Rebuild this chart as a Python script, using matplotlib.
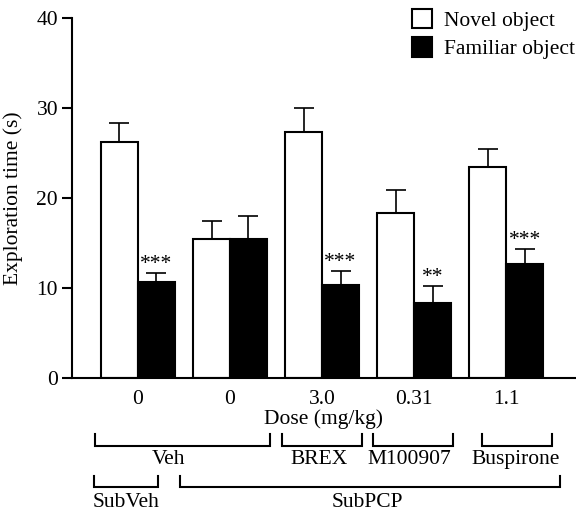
import matplotlib
matplotlib.use("Agg")
import matplotlib.pyplot as plt
import numpy as np

plt.rcParams['font.family'] = ['Liberation Serif', 'DejaVu Serif']

dose_labels = ["0", "0", "3.0", "0.31", "1.1"]
novel = [26.2, 15.4, 27.3, 18.3, 23.4]
novel_sem = [2.2, 2.0, 2.7, 2.6, 2.0]
familiar = [10.7, 15.45, 10.3, 8.3, 12.7]
familiar_sem = [1.0, 2.6, 1.55, 1.9, 1.6]
stars = ["***", "", "***", "**", "***"]
series_names = ["Novel object", "Familiar object"]

# treatment brackets: (label, x_start, x_end, label_x) in group-index units
row1 = [("Veh", -0.46, 1.43, 0.33), ("BREX", 1.56, 2.43, 1.97),
        ("M100907", 2.555, 3.42, 2.95), ("Buspirone", 3.74, 4.50, 4.10)]
row2 = [("SubVeh", -0.475, 0.22, -0.13), ("SubPCP", 0.455, 4.585, 2.49)]

FS = 15.5
fig = plt.figure(figsize=(5.76, 5.11), dpi=100)
ax = fig.add_axes([0.125, 0.2609, 0.874, 0.7033])

x = np.arange(len(novel))
w = 0.4
b1 = ax.bar(x - w/2, novel, w, color='white', edgecolor='black', linewidth=1.5, zorder=2)
b2 = ax.bar(x + w/2, familiar, w, color='black', edgecolor='black', linewidth=1.5, zorder=2)
ax.errorbar(x - w/2, novel, yerr=[np.zeros(len(novel)), novel_sem], fmt='none',
            ecolor='black', elinewidth=1.2, capsize=7, capthick=1.2, zorder=1)
ax.errorbar(x + w/2, familiar, yerr=[np.zeros(len(familiar)), familiar_sem], fmt='none',
            ecolor='black', elinewidth=1.2, capsize=7, capthick=1.2, zorder=1)

for xi, v, s, st in zip(x, familiar, familiar_sem, stars):
    if st:
        ax.text(xi + w/2, v + s + 0.45, st, ha='center', va='baseline', fontsize=FS)

ax.set_ylim(0, 40)
ax.set_xlim(-0.715, 4.75)
ax.set_yticks([0, 10, 20, 30, 40])
ax.set_xticks(x)
ax.set_xticklabels(dose_labels)
ax.tick_params(axis='y', length=7, width=1.5, pad=3, labelsize=FS, direction='out')
ax.tick_params(axis='x', length=0, pad=9, labelsize=FS)
ax.spines['top'].set_visible(False)
ax.spines['right'].set_visible(False)
ax.spines['left'].set_linewidth(1.5)
ax.spines['bottom'].set_linewidth(1.5)
ax.set_ylabel("Exploration time (s)", fontsize=FS, labelpad=10)
ax.set_xlabel("Dose (mg/kg)", fontsize=FS, labelpad=0)

def bracket(x0, x1, ytop, ybot):
    ax.plot([x0, x0, x1, x1], [ytop, ybot, ybot, ytop], color='black', lw=1.5,
            clip_on=False, solid_joinstyle='miter')

for lab, x0, x1, lx in row1:
    bracket(x0, x1, -6.27, -7.6)
    ax.text(lx, -9.15, lab, ha='center', va='center', fontsize=FS, clip_on=False)
for lab, x0, x1, lx in row2:
    bracket(x0, x1, -10.94, -12.16)
    ax.text(lx, -13.85, lab, ha='center', va='center', fontsize=FS, clip_on=False)

leg = ax.legend([b1, b2], series_names, loc='upper left',
                bbox_to_anchor=(412/576, 1 - 9/511), bbox_transform=fig.transFigure,
                frameon=False, fontsize=FS, handlelength=0.95, handleheight=1.0,
                handletextpad=0.55, labelspacing=0.3, borderpad=0, borderaxespad=0)

fig.savefig("out.png", dpi=100)
